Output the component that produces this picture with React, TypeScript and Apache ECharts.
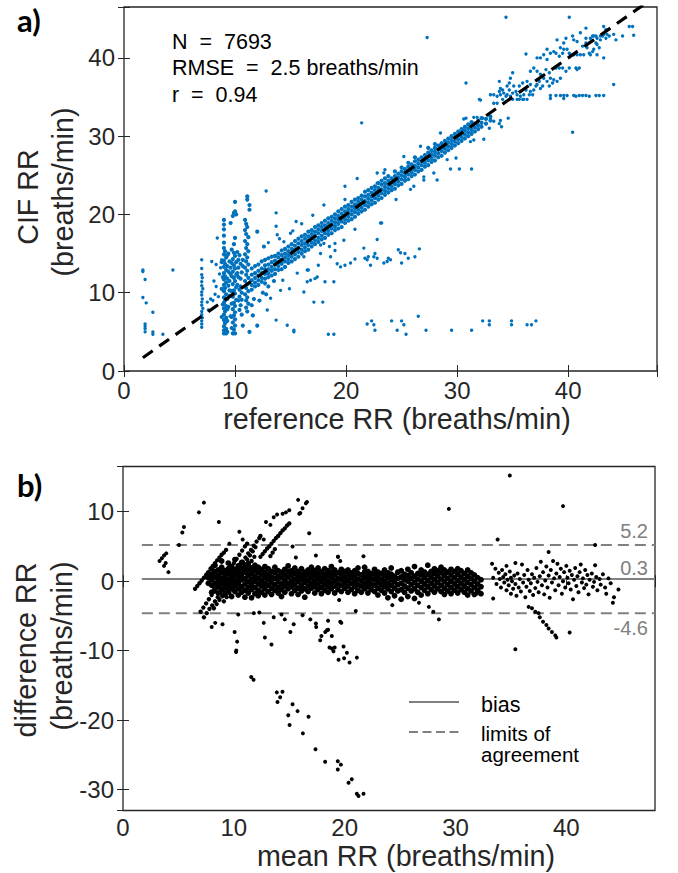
import React, { useEffect, useRef } from 'react';
import * as echarts from 'echarts';

// ---------- axis ranges / ticks ----------
const topX = [0, 48];
const topY = [0, 46.5];
const botX = [0, 48];
const botY = [-33, 16.5];

// ---------- summary values ----------
const statN = 7693;
const statRMSE = 2.5;
const statR = 0.94;
const bias = 0.3;
const loaUpper = 5.2;
const loaLower = -4.6;
const lineStartX = 1.7;

// identity line (y = x) endpoints
const identityLine = [[1.7, 1.7], [48, 48]];

// ---------- panel a: CIF RR vs reference RR ----------
const topLeftOutliers = [[1.7,12.9],[1.7,12.7],[1.9,11.7],[1.7,9.4],[2.0,8.7],[2.6,7.5],[1.9,6.0],[1.9,5.7],[1.9,5.4],[1.9,5.0],[2.6,5.0],[2.6,4.7],[3.5,4.7],[4.4,12.9]];

const topStripe7 = [[7.0,14.2],[7.0,13.1],[7.0,12.3],[7.05,11.9],[7.0,11.4],[7.0,10.9],[7.1,10.5],[7.0,10.1],[7.0,9.7],[7.05,9.2],[7.0,8.8],[7.0,8.4],[7.1,8.0],[7.0,7.6],[7.0,7.2],[7.05,6.8],[7.0,6.4],[7.0,6.0],[7.0,5.6],[7.9,14.0],[8.3,10.8],[8.5,9.5],[7.5,8.8],[7.6,7.8],[8.0,9.0],[8.2,9.8],[8.6,12.4],[8.7,13.2],[8.3,13.6],[8.8,14.2],[8.4,17.0],[8.1,11.5],[7.8,9.2]];

const topColumn9 = [[9.0,4.8],[9.2,4.8],[9.0,5.2],[9.2,5.4],[9.0,5.7],[9.1,6.1],[9.0,6.5],[9.2,6.8],[9.0,7.2],[9.1,7.6],[9.0,8.0],[9.2,8.3],[9.0,8.7],[9.1,9.0],[9.0,9.4],[9.2,9.8],[9.0,10.2],[9.1,10.6],[9.0,11.0],[9.2,11.3],[9.0,11.7],[9.1,12.1],[9.0,12.5],[9.2,12.9],[9.0,13.3],[9.1,13.7],[9.0,14.1],[9.2,14.5],[9.0,14.9],[9.1,15.3],[9.0,15.7],[8.8,13.9],[8.9,12.0],[8.8,10.5],[8.9,8.5],[8.8,6.9],[9.0,16.4],[9.0,17.3],[9.0,18.1],[9.0,18.7],[9.0,19.3],[9.6,18.9],[9.4,12.7],[9.4,10.9],[9.5,9.6],[9.4,8.2],[9.5,14.0],[9.3,5.0],[9.3,6.4],[9.3,7.9],[9.3,9.2],[9.3,11.8],[9.3,13.4],[9.3,14.8]];

const topColumn10 = [[9.8,4.8],[10.0,4.8],[9.9,5.3],[10.0,5.8],[9.8,6.2],[10.0,6.6],[9.9,7.1],[10.0,7.5],[9.8,7.9],[10.0,8.3],[9.9,8.7],[10.1,9.1],[9.8,9.5],[10.0,9.9],[9.9,10.3],[10.1,10.7],[9.8,11.1],[10.0,11.5],[9.9,11.9],[10.1,12.3],[9.8,12.7],[10.0,13.1],[9.9,13.5],[10.1,13.9],[9.8,14.3],[10.0,14.7],[9.9,15.1],[9.7,15.5],[9.9,16.2],[10.0,17.0],[9.9,20.2],[10.0,20.4],[10.1,20.0],[10.0,21.6],[9.8,19.8],[10.3,12.0],[10.4,10.4],[10.5,13.7],[10.3,9.0],[10.4,14.8],[9.7,5.5],[9.7,6.9],[9.7,8.6],[9.7,12.1],[9.7,13.8]];

const topColumn11 = [[11.1,22.3],[11.1,21.9],[11.3,21.2],[11.3,20.6],[10.9,19.3],[11.0,18.8],[11.1,18.4],[10.9,18.0],[11.0,17.5],[11.2,17.1],[10.9,16.6],[11.1,16.2],[11.0,15.7],[11.2,15.3],[10.9,14.9],[11.1,14.5],[11.0,14.0],[11.2,13.6],[10.9,13.2],[11.1,12.8],[11.0,12.3],[11.2,11.9],[10.9,11.5],[11.1,11.1],[11.0,10.6],[11.2,10.2],[10.9,9.8],[11.1,9.4],[11.0,9.0],[11.2,8.6],[11.0,8.1],[11.1,7.6],[10.7,5.8],[11.3,5.0],[12.0,5.8],[11.6,7.1],[11.7,9.2],[11.5,8.4]];

const topClusterFill = [[9.5,11.5],[9.6,13.2],[9.7,10.2],[10.2,11.0],[10.3,13.2],[10.5,11.8],[10.6,10.0],[10.6,12.6],[10.4,9.5],[10.7,14.2],[10.2,15.2],[9.4,15.0],[10.5,8.4],[10.6,7.2],[9.6,7.0],[12.0,17.8],[12.6,15.9],[12.5,10.0],[13.0,10.8],[12.2,9.0],[13.5,11.5],[12.8,9.8],[10.5,10.8],[10.2,12.5],[10.7,13.4],[10.3,14.2],[9.6,12.4],[9.5,10.3],[10.6,9.1],[10.4,7.8]];

const topSparseLow = [[12.8,23.0],[13.7,20.2],[13.7,18.5],[13.8,17.4],[15.0,17.6],[15.5,19.1],[14.4,16.5],[12.9,7.8],[13.7,6.5],[14.7,5.85],[15.3,5.2],[15.3,5.0],[16.2,10.1],[16.8,11.6],[17.1,8.8],[17.9,8.8],[16.5,12.9],[17.4,12.0],[14.9,10.5],[14.1,10.3],[13.2,9.3],[14.3,11.6],[15.6,12.5]];

// main band, columns of [reference RR, [CIF RR values]]
const topBand = [
  [11.5,[10.4,11.0,11.6,12.3,13.1]],[11.8,[10.8,11.3,11.9,12.5,13.4]],[12.1,[11.0,11.6,12.2,12.8,13.6]],
  [12.4,[11.4,11.9,12.5,13.1,14.0]],[12.7,[11.2,11.8,12.4,13.0,13.5,14.2]],[13.0,[12.0,12.5,13.0,13.6,14.4]],
  [13.3,[12.2,12.8,13.3,13.9,14.6]],[13.6,[12.4,13.0,13.6,14.1,14.7]],[13.9,[12.9,13.4,13.9,14.5,15.0]],
  [14.2,[13.0,13.7,14.2,14.8,15.4]],[14.5,[13.3,14.0,14.5,15.0,15.6]],[14.8,[13.8,14.3,14.8,15.3,15.9]],
  [15.1,[14.0,14.6,15.1,15.6,16.2]],[15.4,[14.3,14.9,15.5,16.0,16.6]],[15.7,[14.6,15.2,15.7,16.3,16.9]],
  [16.0,[15.0,15.5,16.1,16.6,17.2]],[16.3,[15.3,15.8,16.3,16.9,17.4]],[16.6,[15.5,16.1,16.7,17.2,17.8]],
  [16.9,[15.9,16.4,17.0,17.5,18.0]],[17.2,[16.2,16.7,17.3,17.8,18.4]],[17.5,[16.5,17.0,17.6,18.1,18.6]],
  [17.8,[16.8,17.3,17.9,18.4,18.9]],[18.1,[17.0,17.6,18.1,18.6,19.2]],[18.4,[17.4,17.9,18.4,18.9,19.5]],
  [18.7,[17.6,18.2,18.7,19.2,19.7]],[19.0,[18.0,18.5,19.0,19.5,20.0]],[19.3,[18.2,18.8,19.3,19.8,20.4]],
  [19.6,[18.4,19.1,19.6,20.1,20.7]],[19.9,[18.9,19.4,19.9,20.4,21.0]],[20.2,[19.2,19.7,20.2,20.7,21.2]],
  [20.5,[19.4,20.0,20.5,21.0,21.6]],[20.8,[19.7,20.3,20.8,21.3,21.9]],[21.1,[20.1,20.6,21.1,21.6,22.1]],
  [21.4,[20.4,20.9,21.4,21.9,22.4]],[21.7,[20.6,21.2,21.7,22.3,22.9]],[22.0,[21.0,21.5,22.0,22.5,23.1]],
  [22.3,[21.3,21.8,22.3,22.8,23.4]],[22.6,[21.5,22.1,22.6,23.1,23.6]],[22.9,[21.9,22.4,22.9,23.4,24.0]],
  [23.2,[22.1,22.7,23.2,23.8,24.3]],[23.5,[22.5,23.0,23.5,24.0,24.6]],[23.8,[22.8,23.3,23.8,24.3,24.9]],
  [24.1,[23.1,23.6,24.1,24.6]],[24.4,[23.3,23.9,24.4,24.9,25.5]],[24.7,[23.7,24.2,24.7,25.2]],
  [25.0,[23.9,24.5,25.0,25.5,26.0]],[25.3,[24.3,24.8,25.3,25.8]],[25.6,[24.5,25.1,25.6,26.1,26.6]],
  [25.9,[24.9,25.4,25.9,26.4]],[26.2,[25.1,25.7,26.2,26.8,27.3]],[26.5,[25.5,26.0,26.5,27.0]],
  [26.8,[25.7,26.3,26.8,27.3]],[27.1,[26.1,26.6,27.1,27.6]],[27.4,[26.3,26.9,27.4,27.9,28.5]],
  [27.7,[26.7,27.2,27.7,28.2]],[28.0,[26.9,27.5,28.0,28.5,29.0]],[28.3,[27.3,27.8,28.3,28.8]],
  [28.6,[27.5,28.1,28.6,29.1]],[28.9,[27.9,28.4,28.9,29.4]],[29.2,[28.2,28.7,29.2,29.7]],
  [29.5,[28.5,29.0,29.5,30.0]],[29.8,[28.8,29.3,29.8,30.3]],[30.1,[29.1,29.6,30.1,30.6]],
  [30.4,[29.4,29.9,30.4,30.9]],[30.7,[29.7,30.2,30.7,31.2]],[31.0,[30.0,30.5,31.0,31.5]],
  [31.3,[30.3,30.8,31.3,31.8]],[31.6,[30.6,31.1,31.6]],[31.9,[30.9,31.4,32.0]],
  [32.2,[31.2,31.7,32.3]],[32.6,[31.6,32.2]],[33.0,[32.0,32.5]]
];

const topBandScatter = [[19.9,23.6],[18.0,21.2],[20.7,21.0],[21.0,24.6],[22.8,25.3],[23.5,25.7],[28.2,24.4],[26.1,23.6],[27.0,24.8],[27.9,25.3],[29.9,27.2],[29.1,27.0],[31.2,29.3],[30.6,30.8],[28.5,30.4],[26.7,28.7],[25.2,27.4],[23.4,25.3],[22.8,24.0],[19.9,21.9],[20.8,18.1],[19.8,16.7],[19.0,16.3],[18.0,16.3],[17.7,16.1],[16.2,14.6],[13.0,16.4],[14.0,16.9],[15.2,17.9],[16.0,18.8],[17.0,19.9],[24.5,21.9],[25.8,23.2],[27.0,24.4],[31.5,29.5],[32.4,29.6],[34.0,31.2],[30.6,32.2],[30.8,32.3],[31.5,32.4],[31.8,32.4],[32.3,32.3],[33.0,32.3],[33.3,31.9],[33.8,31.6],[33.9,32.0],[34.6,32.3],[32.9,31.0],[32.1,34.6]];

const topHighCluster = [[33.0,35.3],[33.3,35.3],[33.6,35.1],[33.8,35.7],[33.9,35.3],[34.1,35.9],[34.2,35.5],[34.4,35.1],[34.5,35.3],[34.7,35.9],[34.8,35.1],[35.0,35.5],[35.3,35.7],[35.4,35.3],[35.6,34.7],[35.7,35.1],[35.9,34.7],[36.0,35.3],[36.2,35.9],[36.3,34.7],[36.5,35.3],[36.6,35.7],[36.8,35.3],[36.9,35.9],[37.1,36.4],[37.2,36.6],[37.4,37.0],[37.5,36.1],[37.7,36.4],[38.1,37.0],[38.3,36.4],[38.6,36.8],[38.7,37.2],[39.0,37.0],[39.3,37.4],[36.6,36.6],[36.3,37.0],[35.9,36.8],[35.6,36.4],[35.1,36.4],[34.8,37.4],[34.7,36.8],[34.5,36.4],[35.0,38.1],[36.6,38.3],[36.9,38.7],[37.2,38.3],[37.5,37.9],[37.8,37.4],[38.0,38.5],[38.3,38.1],[38.4,37.4],[38.9,38.7],[39.2,38.7],[39.5,38.7],[39.8,38.3],[40.1,38.7],[40.7,38.7],[40.8,38.5],[41.0,38.7],[33.8,37.0],[33.9,36.1],[34.1,34.7],[33.3,34.2],[33.6,34.2],[34.7,34.7],[35.0,34.7],[35.4,34.7],[36.0,34.7]];

const topBranch35 = [[38.4,35.2],[38.9,35.2],[39.3,35.2],[39.6,35.2],[39.9,35.2],[40.5,35.2],[40.7,35.1],[41.0,35.2],[41.3,35.2],[41.6,35.2],[41.9,35.1],[42.5,35.2],[42.8,35.2],[43.2,35.2],[38.4,34.8],[39.6,34.8]];

const topTopCluster = [[37.5,40.0],[37.8,40.4],[38.1,41.1],[38.4,40.6],[38.7,40.8],[38.9,40.6],[39.3,41.3],[39.6,41.1],[39.9,41.1],[39.6,41.9],[39.8,42.5],[40.4,42.8],[40.5,42.3],[41.1,43.2],[41.1,40.4],[41.4,40.4],[41.7,41.3],[41.9,40.6],[42.0,40.4],[42.2,40.8],[42.3,41.1],[42.5,41.9],[42.6,41.7],[42.8,41.3],[42.9,42.3],[43.1,42.8],[43.2,40.0],[42.6,40.4],[41.6,42.5],[42.0,42.5],[42.2,42.8],[42.3,42.8],[42.5,42.8],[42.6,42.5],[42.9,42.8],[43.2,43.0],[43.4,42.5],[43.5,43.0],[43.7,42.8],[43.2,44.0],[44.1,43.0],[44.3,42.3],[44.9,42.8],[41.6,43.8],[40.1,40.6],[40.2,40.4],[40.5,40.4],[40.8,40.4],[39.2,40.2],[39.5,40.6],[38.1,39.8],[37.2,40.0],[39.0,42.3],[40.8,42.1],[41.3,41.5],[41.6,41.9],[43.4,43.6]];

const topOutliersHigh = [[34.4,45.2],[40.1,45.2],[30.8,36.8],[40.4,30.5],[44.1,36.6],[45.9,42.9],[45.5,44.0],[45.8,44.0],[36.2,40.5],[27.3,42.6],[21.4,31.7],[32.0,34.7],[29.4,25.8],[30.2,25.8],[31.3,25.8],[23.2,18.9]];

const topLowBranch = [[18.4,4.7],[18.9,4.7],[21.9,6.0],[22.3,6.4],[22.5,5.9],[22.6,5.2],[24.1,6.4],[24.6,5.2],[25.0,6.4],[25.2,5.9],[25.4,4.7],[26.5,7.0],[27.2,5.2],[29.5,5.2],[31.3,5.2],[32.3,6.4],[32.9,6.4],[32.9,5.9],[34.9,6.4],[34.9,5.9],[36.3,5.9],[36.7,5.9],[37.1,6.4]];

const topMidBranch = [[16.6,12.9],[16.5,11.4],[17.2,11.8],[18.1,11.4],[18.9,11.4],[17.5,13.5],[17.7,15.0],[18.5,15.9],[18.6,14.6],[19.0,15.4],[19.2,13.7],[19.5,13.3],[19.9,13.5],[20.4,13.8],[20.8,14.3],[21.6,15.7],[21.7,14.4],[21.9,14.2],[22.0,14.6],[22.2,13.5],[22.5,14.6],[22.6,15.0],[22.8,14.4],[23.4,13.8],[23.7,14.0],[23.8,14.4],[24.0,14.2],[24.7,15.5],[24.9,15.1],[25.0,13.8],[25.3,15.0],[25.6,14.4],[26.2,14.6],[26.6,15.6],[23.1,18.9],[22.8,16.8]];

// ---------- panel b: Bland-Altman ----------
const botLeft = [[3.3,2.9],[3.5,3.3],[3.7,3.7],[3.9,4.0],[3.7,2.2],[4.1,1.3],[3.85,2.6],[5.05,5.2],[5.35,7.0],[5.5,7.8],[6.85,9.9],[7.3,11.3],[8.65,8.5],[10.5,7.1]];

const botStreakA = [[6.5,-1.1],[6.7,-0.7],[6.9,-0.3],[7.1,0.1],[7.3,0.5],[7.5,0.9],[7.7,1.3],[7.9,1.8],[8.1,2.2],[8.3,2.6],[8.5,3.0],[8.7,3.4],[8.9,3.8],[9.1,4.1],[9.3,4.5]];
const botStreakB = [[7.3,-5.2],[7.55,-4.6],[7.8,-4.0],[8.05,-3.5],[8.3,-2.9],[8.55,-2.3],[8.8,-1.7],[9.05,-1.2],[9.3,-0.6],[9.55,0.0],[9.8,0.6],[10.05,1.1],[10.3,1.7],[10.55,2.3],[10.8,2.8],[11.05,3.4],[11.3,4.0],[11.55,4.5],[11.8,5.1],[12.05,5.7],[12.3,6.2],[12.4,6.5]];
const botStreakC = [[7.0,-4.4],[7.25,-3.8],[7.5,-3.2],[7.75,-2.6],[8.0,-2.0],[8.25,-1.5],[8.5,-0.9],[8.75,-0.3],[9.0,0.3],[9.25,0.9],[9.5,1.5],[9.75,2.0],[10.0,2.6],[10.25,3.2],[10.5,3.8],[10.75,4.4],[11.0,5.0],[11.2,5.4]];
const botStreakD = [[8.2,-3.9],[8.45,-3.3],[8.7,-2.7],[8.95,-2.2],[9.2,-1.6],[9.45,-1.0],[9.7,-0.4],[9.95,0.2],[10.2,0.8],[10.45,1.4],[10.7,2.0],[10.95,2.5],[11.2,3.1],[11.45,3.7],[11.7,4.3],[11.95,4.9]];
const botStreakE = [[9.1,-2.9],[9.35,-2.3],[9.6,-1.7],[9.85,-1.2],[10.1,-0.6],[10.35,0.0],[10.6,0.6],[10.85,1.2],[11.1,1.7],[11.35,2.3],[11.6,2.9],[11.85,3.5]];
const botStreakF = [[12.4,3.5],[12.6,3.9],[12.8,4.3],[13.0,4.7],[13.2,5.0],[13.4,5.4],[13.6,5.8],[13.8,6.2],[14.0,6.5],[14.2,6.9],[14.4,7.3],[14.6,7.6],[14.8,8.0],[15.0,8.3],[13.3,3.6],[13.5,4.1],[13.7,4.6]];

const botUpper = [[12.9,8.5],[13.3,8.1],[13.6,9.2],[13.9,9.6],[14.4,9.7],[14.7,9.9],[15.0,10.2],[15.9,9.7],[16.2,10.5],[16.5,11.2],[16.6,11.4],[15.8,11.7],[16.0,9.8],[9.6,5.4],[16.8,6.9],[15.6,3.4],[17.4,3.7],[19.4,3.5],[21.7,3.6],[19.6,2.9],[12.7,6.0],[10.8,6.0],[15.3,5.0]];

const botNegTail = [[11.57,-13.8],[11.78,-14.2],[13.88,-16.0],[14.39,-15.9],[14.18,-16.7],[13.94,-17.4],[15.3,-17.7],[15.75,-18.7],[14.91,-19.3],[16.74,-19.5],[15.03,-20.7],[16.23,-21.9],[17.37,-24.2],[18.24,-26.0],[19.38,-25.9],[19.66,-26.4],[19.38,-27.1],[20.64,-28.5],[20.35,-29.0],[21.1,-30.6],[21.25,-30.9],[21.7,-30.6]];

const botNegMid = [[8.0,-6.6],[8.32,-6.0],[8.98,-6.2],[10.07,-7.3],[10.3,-8.7],[10.22,-9.97],[10.2,-10.2],[12.8,-8.1],[13.4,-9.1],[12.7,-6.0],[11.8,-4.6],[14.3,-4.8],[14.6,-5.5],[15.1,-7.3],[15.4,-6.2],[16.9,-5.5],[17.4,-6.1],[17.43,-6.6],[17.79,-8.5],[17.9,-7.9],[18.25,-7.3],[18.5,-7.0],[18.84,-7.9],[18.63,-9.55],[18.84,-9.7],[19.1,-9.55],[18.99,-10.1],[19.45,-11.3],[19.9,-9.4],[20.2,-10.3],[19.95,-11.1],[20.44,-11.7],[21.1,-11.0],[19.7,-6.0],[19.6,-5.85],[18.5,-5.7],[18.4,-7.05],[21.0,-4.3],[24.3,-3.45],[27.6,-3.7],[28.0,-4.4],[28.5,-5.5],[26.7,-3.1],[19.5,-2.7],[10.4,-4.8],[12.3,-4.5],[13.6,-5.2],[16.2,-4.9]];

const botBand = [
  [7.7,[-0.3,0.5,1.1]],[8.0,[-1.6,-0.6,0.2,1.0,1.8]],[8.3,[-1.1,-0.3,0.6,1.4,2.3]],
  [8.6,[-1.7,-0.8,0.1,0.8,1.6]],[8.9,[-1.2,-0.4,0.4,1.2,2.0,2.9]],[9.2,[-1.9,-0.9,-0.1,0.7,1.5]],
  [9.5,[-1.4,-0.6,0.3,1.1,1.8,2.6]],[9.8,[-2.2,-1.0,-0.2,0.6,1.4,2.1]],[10.1,[-1.5,-0.7,0.0,0.9,1.7,3.1]],
  [10.4,[-2.0,-1.1,-0.3,0.5,1.2,2.2]],[10.7,[-1.6,-0.8,0.2,1.0,1.8,2.7]],[11.0,[-2.3,-1.3,-0.4,0.4,1.3,2.0]],
  [11.3,[-1.7,-0.9,-0.1,0.8,1.6,2.5]],[11.6,[-2.4,-1.2,-0.5,0.3,1.1,1.9]],[11.9,[-1.8,-0.9,0.0,0.7,1.5,2.3]],
  [12.2,[-2.1,-1.3,-0.4,0.4,1.2,2.0]],[12.5,[-1.6,-0.7,0.1,0.9,1.7]],[12.8,[-2.0,-1.1,-0.3,0.5,1.3,2.1]],
  [13.1,[-1.5,-0.6,0.2,1.0,1.8]],[13.4,[-1.9,-1.0,-0.2,0.6,1.4]],[13.7,[-1.3,-0.5,0.4,1.2,2.0]],
  [14.0,[-1.7,-0.9,-0.1,0.7,1.5]],[14.3,[-2.2,-1.2,-0.4,0.5,1.3]],[14.6,[-1.6,-0.7,0.1,0.9,1.7]],
  [14.9,[-1.1,-0.3,0.6,1.4,2.2]],[15.2,[-1.8,-0.8,0.0,0.8,1.5]],[15.5,[-1.3,-0.5,0.3,1.1,1.9]],
  [15.8,[-1.9,-1.0,-0.1,0.7,1.4]],[16.1,[-1.4,-0.6,0.2,1.0,1.8]],[16.4,[-2.3,-1.1,-0.2,0.5,1.3]],
  [16.7,[-1.5,-0.7,0.1,0.9,1.6]],[17.0,[-1.0,-0.3,0.5,1.2,2.0]],[17.3,[-1.7,-0.8,0.0,0.8,1.5]],
  [17.6,[-1.2,-0.4,0.4,1.1,1.9]],[17.9,[-1.8,-0.9,-0.1,0.7,1.4]],[18.2,[-1.3,-0.5,0.3,1.0,1.8]],
  [18.5,[-1.6,-0.8,0.0,0.8,1.5]],[18.8,[-1.1,-0.3,0.5,1.3,2.1]],[19.1,[-1.7,-0.7,0.1,0.9,1.6]],
  [19.4,[-1.2,-0.4,0.4,1.2]],[19.7,[-1.5,-0.6,0.2,1.0,1.7]],[20.0,[-1.0,-0.2,0.6,1.4]],
  [20.3,[-1.6,-0.7,0.1,0.9,1.6]],[20.6,[-1.2,-0.3,0.5,1.2]],[20.9,[-1.8,-0.8,0.0,0.8,1.5]],
  [21.2,[-1.3,-0.5,0.3,1.1,1.9]],[21.5,[-1.6,-0.7,0.1,0.9]],[21.8,[-1.1,-0.3,0.5,1.3,2.0]],
  [22.1,[-1.7,-0.8,0.0,0.7,1.4]],[22.4,[-1.2,-0.4,0.4,1.1]],[22.7,[-1.5,-0.6,0.2,1.0,1.7]],
  [23.0,[-2.0,-1.0,-0.2,0.6,1.3]],[23.3,[-1.3,-0.5,0.3,1.1]],[23.6,[-1.7,-0.8,0.0,0.8,1.6]],
  [23.9,[-2.4,-1.1,-0.3,0.5,1.2]],[24.2,[-1.5,-0.6,0.2,1.0,1.9]],[24.5,[-2.1,-1.0,-0.1,0.7]],
  [24.8,[-1.4,-0.5,0.4,1.3]],[25.1,[-2.6,-1.2,-0.3,0.6,1.5]],[25.4,[-1.6,-0.7,0.2,1.0]],
  [25.7,[-2.2,-1.0,0.0,0.8,1.7]],[26.0,[-1.4,-0.5,0.4,1.2]],[26.3,[-2.5,-1.1,-0.2,0.7,2.1]],
  [26.6,[-1.6,-0.6,0.3,1.1]],[26.9,[-2.0,-0.9,0.0,0.9,1.6]],[27.2,[-1.3,-0.4,0.5,1.3]],
  [27.5,[-1.8,-0.8,0.1,1.0,2.3]],[27.8,[-1.2,-0.3,0.6,1.4]],[28.1,[-1.6,-0.7,0.2,1.1,1.8]],
  [28.4,[-1.1,-0.2,0.7,1.5]],[28.7,[-1.5,-0.6,0.3,1.2,2.0]],[29.0,[-1.9,-1.0,-0.1,0.8,1.6]],
  [29.3,[-1.4,-0.5,0.4,1.3]],[29.6,[-1.8,-0.9,0.0,0.9,1.7]],[29.9,[-1.3,-0.4,0.5,1.4]],
  [30.2,[-1.7,-0.8,0.1,1.0,1.8]],[30.5,[-1.2,-0.3,0.6,1.5]],[30.8,[-1.6,-0.7,0.2,1.1]],
  [31.1,[-2.0,-1.1,-0.2,0.7,1.6]],[31.4,[-1.4,-0.5,0.4,1.2]],[31.7,[-1.9,-0.9,0.0,0.9]],
  [32.0,[-1.3,-0.4,0.5]],[32.3,[-1.8,-0.8,0.2]]
];

const botSparse = [[33.4,0.5],[33.6,1.8],[33.7,-0.4],[33.9,1.2],[34.0,0.3],[34.1,-0.9],[34.2,1.6],[34.3,0.6],[34.4,-0.2],[34.5,1.0],[34.6,2.2],[34.6,-1.3],[34.7,0.2],[34.8,-0.6],[34.9,1.4],[35.0,0.5],[35.0,-1.8],[35.1,0.0],[35.2,-1.1],[35.3,0.8],[35.4,2.6],[35.4,-0.4],[35.5,-2.1],[35.6,1.1],[35.7,-0.9],[35.8,0.3],[35.9,-1.5],[36.0,2.4],[36.1,-0.2],[36.2,0.9],[36.3,-2.3],[36.4,-0.8],[36.5,1.6],[36.6,0.2],[36.7,-1.4],[36.8,-0.3],[36.9,1.0],[37.0,-2.0],[37.1,0.5],[37.2,-1.0],[37.3,1.9],[37.4,-0.1],[37.5,-1.6],[37.6,0.7],[37.7,2.8],[37.8,-0.6],[37.9,1.3],[38.0,-1.9],[38.1,0.1],[38.2,2.1],[38.3,-0.9],[38.4,0.8],[38.5,-2.4],[38.6,1.6],[38.7,-0.2],[38.8,2.9],[38.9,0.4],[39.0,-1.3],[39.1,1.1],[39.2,2.5],[39.3,-0.6],[39.4,0.6],[39.5,1.8],[39.6,-1.8],[39.7,0.0],[39.8,1.3],[39.9,-0.9],[40.0,2.2],[40.1,0.5],[40.2,-0.3],[40.3,1.5],[40.4,-1.2],[40.5,0.9],[40.6,-2.6],[40.7,0.2],[40.8,1.9],[40.9,-0.7],[41.0,0.7],[41.1,-1.6],[41.2,1.3],[41.3,2.4],[41.4,-0.2],[41.5,0.4],[41.6,-1.0],[41.7,1.6],[41.8,-0.5],[41.9,0.9],[42.0,-1.9],[42.1,0.2],[42.3,1.1],[42.4,-0.8],[42.5,-0.1],[42.6,2.3],[42.7,0.6],[42.8,-1.3],[43.0,0.3],[43.1,-0.5],[43.3,1.0],[43.5,-0.9],[43.6,-1.8],[43.8,0.4],[44.0,-0.3],[44.3,-2.3],[44.7,-1.2]];

const botFar = [[34.9,15.2],[39.7,10.8],[29.4,10.4],[33.8,6.0],[42.6,5.2],[38.4,4.2],[35.4,-9.8],[40.3,-7.4],[44.2,-3.1],[36.6,-3.7],[36.9,-3.9],[37.2,-4.4],[37.5,-4.6],[37.6,-5.2],[37.9,-5.85],[38.2,-6.3],[38.4,-6.8],[38.7,-7.3],[39.0,-7.8],[39.1,-8.1],[33.3,2.5],[33.4,-2.5],[31.9,-1.8],[19.4,3.5]];

function expandColumns(cols) {
  const out = [];
  for (const [x, ys] of cols) for (const y of ys) out.push([x, y]);
  return out;
}

const AXIS = '#262626';
const FONT = '"Liberation Sans", Arial, Helvetica, sans-serif';
const BLUE = '#0072BD';
const fmt10 = (v) => (Math.abs(v % 10) < 1e-9 ? String(Math.round(v)) : '');

function xAxisPair(grid, ext, margin) {
  const base = {
    gridIndex: grid, type: 'value', min: ext[0], max: ext[1], splitNumber: 5,
    axisLine: { show: false }, splitLine: { show: false },
    axisTick: { show: true, inside: true, length: 6, lineStyle: { color: AXIS, width: 1 } },
  };
  return [
    { ...base, position: 'bottom', axisLabel: { color: AXIS, fontSize: 24, fontFamily: FONT, margin, formatter: fmt10 } },
    { ...base, position: 'top', axisLabel: { show: false } },
  ];
}
function yAxisPair(grid, ext) {
  const base = {
    gridIndex: grid, type: 'value', min: ext[0], max: ext[1], splitNumber: 5,
    axisLine: { show: false }, splitLine: { show: false },
    axisTick: { show: true, inside: true, length: 6, lineStyle: { color: AXIS, width: 1 } },
  };
  return [
    { ...base, position: 'left', axisLabel: { color: AXIS, fontSize: 24, fontFamily: FONT, margin: 9, formatter: fmt10 } },
    { ...base, position: 'right', axisLabel: { show: false } },
  ];
}

function txt(text, x, y, size, fill, extra = {}) {
  const style = {
    text, fill, fontSize: size, fontFamily: extra.family || FONT,
    align: extra.align || 'left', textAlign: extra.align || 'left',
    verticalAlign: 'middle', textVerticalAlign: 'middle',
    fontWeight: extra.weight || 'normal',
  };
  if (extra.lineHeight) style.lineHeight = extra.lineHeight;
  const el = { type: 'text', x, y, silent: true, style };
  if (extra.rotation) el.rotation = extra.rotation;
  return el;
}

function scatter(xi, data, size, color, z) {
  return {
    type: 'scatter', xAxisIndex: xi, yAxisIndex: xi, data, symbol: 'circle', symbolSize: size,
    itemStyle: { color, opacity: 1 }, progressive: 0, silent: true, z,
  };
}

export default function App() {
  const ref = useRef(null);
  useEffect(() => {
    const chart = echarts.init(ref.current, null, { renderer: 'svg' });
    const topDense = [
      ...topColumn9, ...topColumn10, ...topColumn11, ...topClusterFill, ...expandColumns(topBand),
    ];
    const topSparse = [
      ...topLeftOutliers, ...topStripe7, ...topSparseLow, ...topBandScatter, ...topHighCluster,
      ...topBranch35, ...topTopCluster, ...topOutliersHigh, ...topLowBranch, ...topMidBranch,
    ];
    const botDense = expandColumns(botBand);
    const botStreaks = [...botStreakA, ...botStreakB, ...botStreakC, ...botStreakD, ...botStreakE, ...botStreakF];
    const botSparsePts = [...botLeft, ...botUpper, ...botNegTail, ...botNegMid, ...botSparse, ...botFar];
    const hLine = (y) => [[lineStartX, y], [botX[1], y]];
    const option = {
      animation: false,
      backgroundColor: '#ffffff',
      grid: [
        { left: 124, top: 7, width: 533, height: 364, show: true, borderColor: AXIS, borderWidth: 1.3, backgroundColor: 'transparent' },
        { left: 123, top: 466.5, width: 532, height: 344, show: true, borderColor: AXIS, borderWidth: 1.3, backgroundColor: 'transparent' },
      ],
      xAxis: [...xAxisPair(0, topX, 7), ...xAxisPair(1, botX, 5)],
      yAxis: [...yAxisPair(0, topY), ...yAxisPair(1, botY)],
      series: [
        scatter(0, topDense, 4.2, BLUE, 2),
        scatter(0, topSparse, 3.4, BLUE, 2),
        {
          type: 'line', xAxisIndex: 0, yAxisIndex: 0, data: identityLine, symbol: 'none', clip: true,
          lineStyle: { color: '#000000', width: 3.2, type: [12, 8] }, silent: true, z: 5,
        },
        {
          type: 'line', xAxisIndex: 2, yAxisIndex: 2, data: hLine(bias), symbol: 'none',
          lineStyle: { color: '#808080', width: 2 }, silent: true, z: 1,
        },
        {
          type: 'line', xAxisIndex: 2, yAxisIndex: 2, data: hLine(loaUpper), symbol: 'none',
          lineStyle: { color: '#808080', width: 2, type: [11, 6] }, silent: true, z: 1,
        },
        {
          type: 'line', xAxisIndex: 2, yAxisIndex: 2, data: hLine(loaLower), symbol: 'none',
          lineStyle: { color: '#808080', width: 2, type: [11, 6] }, silent: true, z: 1,
        },
        scatter(2, botDense, 5.8, '#000000', 3),
        scatter(2, botStreaks, 4.4, '#000000', 3),
        scatter(2, botSparsePts, 4, '#000000', 3),
      ],
    };
    chart.setOption(option);

    const pU = chart.convertToPixel({ xAxisIndex: 2, yAxisIndex: 2 }, [botX[1], loaUpper]);
    const pB = chart.convertToPixel({ xAxisIndex: 2, yAxisIndex: 2 }, [botX[1], bias]);
    const pL = chart.convertToPixel({ xAxisIndex: 2, yAxisIndex: 2 }, [botX[1], loaLower]);
    const BOLD = 'Lato, "Open Sans", sans-serif';

    chart.setOption({
      graphic: [
        txt('a)', 17, 20, 31, '#000', { weight: 'bold', family: BOLD }),
        txt('b)', 17, 485, 31, '#000', { weight: 'bold', family: BOLD }),
        txt('N  =  ' + statN, 172, 42, 21.5, '#000'),
        txt('RMSE  =  ' + statRMSE + ' breaths/min', 172, 68, 21.5, '#000'),
        txt('r  =  ' + statR, 172, 94.5, 21.5, '#000'),
        txt('reference RR (breaths/min)', 397, 419, 28.7, AXIS, { align: 'center' }),
        txt('mean RR (breaths/min)', 406, 856, 28.7, AXIS, { align: 'center' }),
        txt('CIF RR', 28, 197, 28.7, AXIS, { align: 'center', rotation: Math.PI / 2 }),
        txt('(breaths/min)', 63, 192, 28.7, AXIS, { align: 'center', rotation: Math.PI / 2 }),
        txt('difference RR', 26, 650, 28.7, AXIS, { align: 'center', rotation: Math.PI / 2 }),
        txt('(breaths/min)', 62, 646, 28.7, AXIS, { align: 'center', rotation: Math.PI / 2 }),
        txt(String(loaUpper), pU[0] - 7, pU[1] - 14, 20, '#808080', { align: 'right' }),
        txt(String(bias), pB[0] - 7, pB[1] - 11, 20, '#808080', { align: 'right' }),
        txt(String(loaLower), pL[0] - 7, pL[1] + 15, 20, '#808080', { align: 'right' }),
        {
          type: 'line', silent: true, shape: { x1: 409, y1: 702, x2: 459, y2: 702 },
          style: { stroke: '#808080', lineWidth: 2 },
        },
        {
          type: 'line', silent: true, shape: { x1: 409, y1: 732, x2: 459, y2: 732 },
          style: { stroke: '#808080', lineWidth: 2, lineDash: [9, 4.5] },
        },
        txt('bias', 481, 705, 21.5, '#000'),
        txt('limits of\nagreement', 481, 744, 20.5, '#000', { lineHeight: 21 }),
      ],
    });
    return () => chart.dispose();
  }, []);
  return (
    <div
      ref={ref}
      style={{ position: 'fixed', left: 0, top: 0, width: 678, height: 873, background: '#ffffff' }}
    />
  );
}
